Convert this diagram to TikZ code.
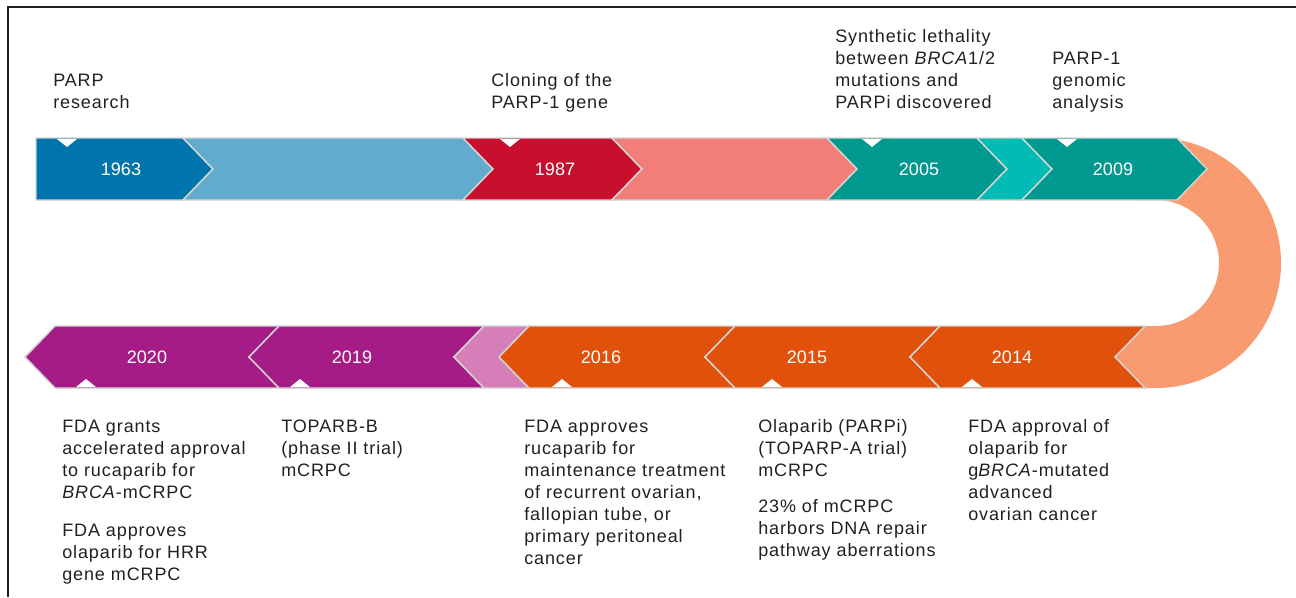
\documentclass[tikz,border=0pt]{standalone}
\usepackage{fontspec}
\setmainfont{Liberation Sans}
\newfontfamily\lblfont[LetterSpace=5]{Liberation Sans}
\usetikzlibrary{calc}
\definecolor{ink}{HTML}{231F20}
\definecolor{edge}{HTML}{D4D4D4}
\definecolor{dblue}{HTML}{0075AD}
\definecolor{lblue}{HTML}{63ABCE}
\definecolor{dred}{HTML}{C8102E}
\definecolor{salmon}{HTML}{F27E79}
\definecolor{dteal}{HTML}{00998F}
\definecolor{lteal}{HTML}{00BCB4}
\definecolor{peach}{HTML}{F99B71}
\definecolor{dorange}{HTML}{E0520B}
\definecolor{lpink}{HTML}{D67EB7}
\definecolor{dpurple}{HTML}{A51C86}
\def\dep{30}
% right-pointing piece of the upper band, left-pointing piece of the lower band
\newcommand{\chevR}[3]{\filldraw[chev, fill=#3] (#1,138) -- (#2,138) -- (#2+\dep,169) -- (#2,200) -- (#1,200) -- (#1+\dep,169) -- cycle;}
\newcommand{\chevL}[3]{\filldraw[chev, fill=#3] (#1,326) -- (#2,326) -- (#2-\dep,357) -- (#2,388) -- (#1,388) -- (#1-\dep,357) -- cycle;}
\newcommand{\notchT}[1]{\fill[white] (#1-10,139) -- (#1+10,139) -- (#1,147) -- cycle;}
\newcommand{\notchB}[1]{\fill[white] (#1-10,387) -- (#1+10,387) -- (#1,379) -- cycle;}

\begin{document}
\begin{tikzpicture}[x=0.75pt, y=-0.75pt]
	\tikzstyle{chev} = [draw=edge, line width=1.1pt, line join=miter]
	\tikzstyle{yr}   = [text=white, inner sep=0pt, font=\fontsize{13.5}{16}\selectfont]
	\tikzstyle{lbl}  = [anchor=base west, align=left, inner sep=0pt, text=ink, font=\lblfont\fontsize{13.5}{16.5}\selectfont]
	\useasboundingbox (0,0) rectangle (1296,597);
	\draw[line width=1.5pt, ink] (8,597) -- (8,7) -- (1296,7);

	%% the bend
	\fill[peach] (1140,138) -- (1156,138) arc[start angle=-90, end angle=90, radius=125]
		-- (1110,388) -- (1110,326) -- (1156,326) arc[start angle=90, end angle=-90, radius=63]
		-- (1140,200) -- cycle;

	%% upper band
	\filldraw[chev, fill=dblue] (36,138) -- (183,138) -- (213,169) -- (183,200) -- (36,200) -- cycle;
	\chevR{183}{463}{lblue}
	\chevR{463}{612}{dred}
	\chevR{612}{827}{salmon}
	\chevR{827}{977}{dteal}
	\chevR{977}{1022}{lteal}
	\chevR{1022}{1177}{dteal}
	\notchT{67}
	\notchT{510}
	\notchT{872}
	\notchT{1067}

	%% lower band
	\chevL{55}{279}{dpurple}
	\chevL{279}{484}{dpurple}
	\chevL{484}{529}{lpink}
	\chevL{529}{735}{dorange}
	\chevL{735}{940}{dorange}
	\chevL{940}{1145}{dorange}
	\notchB{86}
	\notchB{300}
	\notchB{562}
	\notchB{772}
	\notchB{972}

	%% years
	\node[yr] (y63) at (121,169) {1963};
	\node[yr] (y87) at (555,169) {1987};
	\node[yr] (y05) at (919,169) {2005};
	\node[yr] (y09) at (1113,169) {2009};
	\node[yr] (y20) at (147,357) {2020};
	\node[yr] (y19) at (352,357) {2019};
	\node[yr] (y16) at (601,357) {2016};
	\node[yr] (y15) at (807,357) {2015};
	\node[yr] (y14) at (1012,357) {2014};

	%% events (placed at the baseline of their last line)
	\node[lbl] (l63) at (53,108) {PARP\\research};
	\node[lbl] (l87) at (491,108) {Cloning of the\\PARP-1 gene};
	\node[lbl] (l05) at (835,108) {Synthetic lethality\\between \textit{BRCA}1/2\\mutations and\\PARPi discovered};
	\node[lbl] (l09) at (1052,108) {PARP-1\\genomic\\analysis};
	\node[lbl] (l20a) at (62,498) {FDA grants\\accelerated approval\\to rucaparib for\\\textit{BRCA}-mCRPC};
	\node[lbl] (l20b) at (62,580) {FDA approves\\olaparib for HRR\\gene mCRPC};
	\node[lbl] (l19) at (281,476) {TOPARB-B\\(phase II trial)\\mCRPC};
	\node[lbl] (l16) at (524,564) {FDA approves\\rucaparib for\\maintenance treatment\\of recurrent ovarian,\\fallopian tube, or\\primary peritoneal\\cancer};
	\node[lbl] (l15a) at (758,476) {Olaparib (PARPi)\\(TOPARP-A trial)\\mCRPC};
	\node[lbl] (l15b) at (758,556) {23\% of mCRPC\\harbors DNA repair\\pathway aberrations};
	\node[lbl] (l14) at (968,520) {FDA approval of\\olaparib for\\g\textit{BRCA}-mutated\\advanced\\ovarian cancer};
\end{tikzpicture}
\end{document}
